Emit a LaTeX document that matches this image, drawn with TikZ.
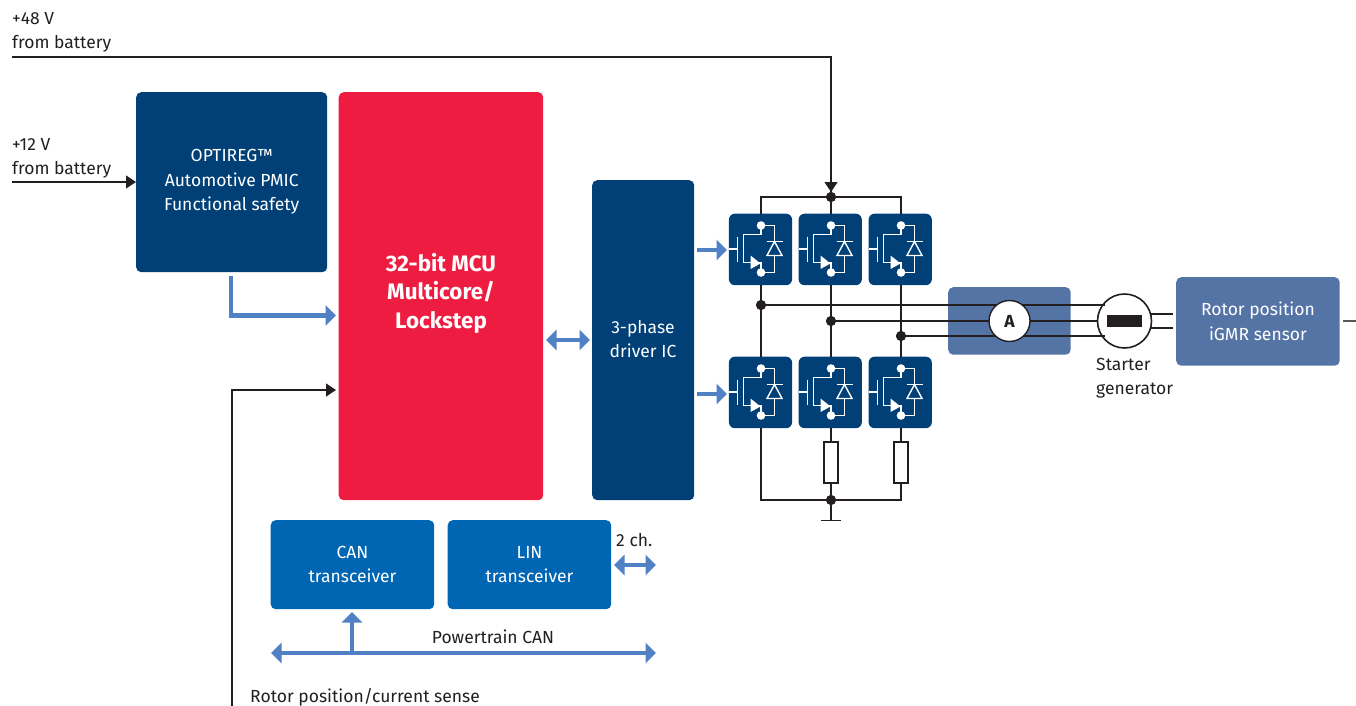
\documentclass[tikz,border=0pt]{standalone}
\usepackage{fontspec}
\setmainfont{Fira Sans}
\usetikzlibrary{arrows.meta,calc}
\definecolor{navy}{HTML}{004077}
\definecolor{mcured}{HTML}{EE1C40}
\definecolor{midblue}{HTML}{0066B3}
\definecolor{steel}{HTML}{5574A6}
\definecolor{arrowblue}{HTML}{4F81C4}
\definecolor{ink}{HTML}{231F20}
\tikzset{
  x=1pt,y=-1pt,
  txt/.style={font=\fontsize{17.5}{24.5}\selectfont,text=ink,inner sep=0pt,align=left,anchor=base west},
  block/.style={draw=none,rounded corners=5pt,font=\fontsize{17.5}{24.5}\selectfont,text=white,align=center,inner sep=0pt,anchor=north west},
  modbox/.style={fill=navy,rounded corners=6pt,minimum width=63.2pt,minimum height=71.5pt,inner sep=0pt,anchor=north west},
  wire/.style={draw=ink,line width=1.3pt},
  tipwire/.style={wire,-{Triangle[length=10pt,width=13pt]}},
  thick arrow/.style={draw=arrowblue,line width=4.7pt,-{Triangle[length=10.5pt,width=20pt]}},
  both arrow/.style={draw=arrowblue,line width=4.7pt,{Triangle[length=10.5pt,width=20pt]}-{Triangle[length=10.5pt,width=20pt]}},
  blackdot/.style={circle,fill=ink,inner sep=0pt,minimum size=10pt},
  sym/.style={draw=white,line width=1.4pt},
}
\newcommand{\switchsym}[2]{%
  \begin{scope}[shift={($(#2 |- #1.north)+(-32,0)$)}]
    \draw[sym] (0,35.5) -- (8.5,35.5);
    \draw[sym] (8.5,23) -- (8.5,48);
    \draw[sym] (32,12) -- (32,21) -- (14.5,21) -- (14.5,49) -- (32,49) -- (32,59);
    \fill[white] (21.5,42) -- (21.5,55.5) -- (31.5,50) -- cycle;
    \draw[sym] (32,12) -- (45.5,12) -- (45.5,59) -- (32,59);
    \draw[sym] (37.5,28) -- (53.5,28);
    \draw[sym,fill=navy] (45.5,28) -- (38,42) -- (53,42) -- cycle;
    \fill[white] (32,12) circle (4.3pt) (32,59) circle (4.3pt);
  \end{scope}}
\begin{document}
\begin{tikzpicture}
\useasboundingbox (0,0) rectangle (1356,706);
\coordinate (batt48) at (12,57);
\coordinate (batt12) at (12,182);
\coordinate (corner48) at (831,57);
\coordinate (c1) at (761,0);
\coordinate (c2) at (831,0);
\coordinate (c3) at (901,0);
\node[blackdot] (topdot) at (831,197) {};
\node[blackdot] (botdot) at (831,500) {};
\node[blackdot] (ph1) at (761,305) {};
\node[blackdot] (ph2) at (831,321) {};
\node[blackdot] (ph3) at (901,336) {};
\coordinate (gnd) at (831,520.5);
\coordinate (gndl) at (820.5,520.5);
\coordinate (gndr) at (841,520.5);
\coordinate (topl) at (761,197);
\coordinate (topr) at (901,197);
\coordinate (botl) at (761,500);
\coordinate (botr) at (901,500);
% blocks
\node[block,fill=navy,minimum width=191pt,minimum height=180pt] (pmic) at (136,92) {OPTIREG™\\Automotive PMIC\\Functional safety};
\node[block,fill=mcured,minimum width=204.5pt,minimum height=408pt] (mcu) at (338.5,92) {};
\node[font=\fontsize{22.4}{28.5}\selectfont\bfseries,text=white,align=center,inner sep=0pt] (mcutxt) at (441,293) {32-bit MCU\\Multicore/\\Lockstep};
\node[block,fill=navy,minimum width=102pt,minimum height=320pt] (drv) at (592,180) {};
\node[font=\fontsize{17.5}{24.5}\selectfont,text=white,align=center,inner sep=0pt] (drvtxt) at (643,339) {3-phase\\driver IC};
\node[block,fill=midblue,minimum width=163.5pt,minimum height=89pt] (can) at (270.5,520) {CAN\\transceiver};
\node[block,fill=midblue,minimum width=163.5pt,minimum height=89pt] (lin) at (447.5,520) {LIN\\transceiver};
\node[block,fill=steel,minimum width=122.5pt,minimum height=67.5pt] (ammbox) at (948,287) {};
\node[block,fill=steel,minimum width=163.5pt,minimum height=88.5pt] (rotor) at (1176,277) {Rotor position\\iGMR sensor};
% modules
\node[modbox] (m1) at (728.7,213.5) {};
\node[modbox] (m2) at (798.4,213.5) {};
\node[modbox] (m3) at (868.4,213.5) {};
\node[modbox] (m4) at (728.7,356.5) {};
\node[modbox] (m5) at (798.4,356.5) {};
\node[modbox] (m6) at (868.4,356.5) {};
% power wires
\draw[wire] (batt48) -- (corner48) -- (topdot);
\draw[tipwire] (corner48) -- (831,192);
\draw[wire] (c1 |- m1.north) -- (topl) -- (topr) -- (c3 |- m3.north);
\draw[wire] (topdot) -- (c2 |- m2.north);
\draw[wire] (c1 |- m1.south) -- (c1 |- m4.north);
\draw[wire] (c2 |- m2.south) -- (c2 |- m5.north);
\draw[wire] (c3 |- m3.south) -- (c3 |- m6.north);
\draw[wire] (c1 |- m4.south) -- (botl) -- (botr) -- (c3 |- m6.south);
\draw[wire] (c2 |- m5.south) -- (botdot) -- (gnd);
\draw[wire] (gndl) -- (gndr);
\switchsym{m1}{c1}\switchsym{m2}{c2}\switchsym{m3}{c3}
\switchsym{m4}{c1}\switchsym{m5}{c2}\switchsym{m6}{c3}
% resistors
\node[draw=ink,line width=1.6pt,fill=white,minimum width=14pt,minimum height=41.5pt,inner sep=0pt] (r1) at (831,462.5) {};
\node[draw=ink,line width=1.6pt,fill=white,minimum width=14pt,minimum height=41.5pt,inner sep=0pt] (r2) at (901,462.5) {};
% motor and phases
\node[circle,draw=ink,line width=1.6pt,fill=white,minimum size=54pt,inner sep=0pt] (motor) at (1124.5,321) {};
\coordinate (mot1) at (1105,305);
\coordinate (mot3) at (1105,336);
\draw[wire] (ph1) -- (mot1);
\draw[wire] (ph2) -- (motor);
\draw[wire] (ph3) -- (mot3);
\node[circle,draw=ink,line width=1.4pt,fill=white,minimum size=41pt,inner sep=0pt,font=\fontsize{17.5}{20}\selectfont\bfseries,text=ink] (amm) at (1009.5,321) {A};
\node[fill=ink,minimum width=35.5pt,minimum height=12pt,inner sep=0pt] (bar) at (1124.5,321) {};
\coordinate (s1) at (1172.5,314);
\coordinate (s2) at (1172.5,328);
\coordinate (s1m) at (1151,314);
\coordinate (s2m) at (1151,328);
\draw[wire] (s1m) -- (s1);
\draw[wire] (s2m) -- (s2);
\coordinate (rout) at (1356,321);
\coordinate (rin) at (1343,321);
\draw[wire,draw=ink!75] (rin) -- (rout);
\node[blackdot] at (831,197) {};
\node[blackdot] at (831,500) {};
\node[blackdot] at (761,305) {};
\node[blackdot] at (831,321) {};
\node[blackdot] at (901,336) {};
% signal arrows
\draw[tipwire] (batt12) -- (pmic.west |- batt12);
\coordinate (sense) at (232,706);
\draw[tipwire] (sense) -- (232,390) -- (336,390);
% blue arrows
\draw[thick arrow] (231,276) -- (231,315.5) -- (336,315.5);
\draw[both arrow] (546,340) -- (590,340);
\draw[thick arrow] (697,250) -- (727,250);
\draw[thick arrow] (697,394) -- (727,394);
\draw[both arrow] (614,565) -- (656,565);
\draw[both arrow] (271,653) -- (656,653);
\draw[thick arrow] (352,653) -- (352,612);
% labels
\node[txt] (l48) at (12,25) {+48 V};
\node[txt] (l48b) at (12,49) {from battery};
\node[txt] (l12) at (12,150) {+12 V};
\node[txt] (l12b) at (12,174) {from battery};
\node[txt] (lsg) at (1096,370) {Starter};
\node[txt] (lsg2) at (1096,394) {generator};
\node[txt] (l2ch) at (616,546) {2 ch.};
\node[txt,anchor=base] (lpt) at (493,643) {Powertrain CAN};
\node[txt] (lrot) at (250,702) {Rotor position/current sense};
\end{tikzpicture}
\end{document}
